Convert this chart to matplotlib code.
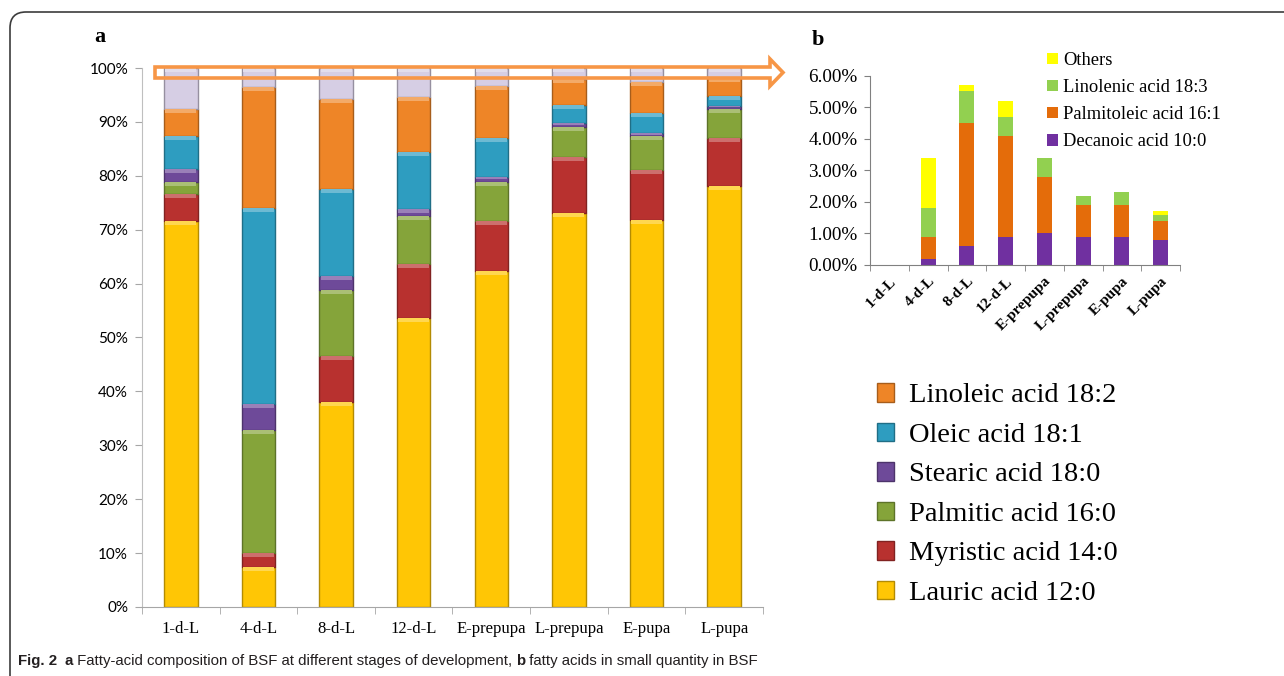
import numpy as np
import matplotlib
matplotlib.use("Agg")
import matplotlib.pyplot as plt
from matplotlib.patches import FancyArrow, FancyBboxPatch, Patch
from matplotlib.text import Annotation
from matplotlib.ticker import FixedLocator, FuncFormatter
from matplotlib.colors import to_rgb

stages = ["1-d-L", "4-d-L", "8-d-L", "12-d-L", "E-prepupa", "L-prepupa", "E-pupa", "L-pupa"]

# panel a: main fatty acids, % of total
lauric = [71.6, 7.4, 38.0, 53.6, 62.3, 73.1, 71.8, 78.1]
myristic = [5.0, 2.6, 8.6, 10.0, 9.3, 10.4, 9.3, 8.9]
palmitic = [2.3, 22.8, 12.2, 8.9, 7.3, 5.6, 6.3, 5.4]
stearic = [2.4, 4.9, 2.6, 1.3, 0.9, 0.7, 0.5, 0.6]
oleic = [6.1, 36.3, 16.2, 10.6, 7.2, 3.3, 3.8, 1.8]
linoleic = [5.0, 22.5, 16.6, 10.2, 9.7, 4.9, 5.7, 3.3]
minor = [7.6, 3.5, 5.8, 5.4, 3.3, 2.0, 2.6, 1.9]

a_labels = ["Lauric acid 12:0", "Myristic acid 14:0", "Palmitic acid 16:0",
            "Stearic acid 18:0", "Oleic acid 18:1", "Linoleic acid 18:2"]
a_colors = ["#FFC605", "#B8312F", "#85A43A", "#6E4A99", "#2E9DC0", "#EE8527", "#D6CEE4"]

# panel b: fatty acids in small quantity, %
decanoic = [0, 0.2, 0.6, 0.9, 1.0, 0.9, 0.9, 0.8]
palmitoleic = [0, 0.7, 3.9, 3.2, 1.8, 1.0, 1.0, 0.6]
linolenic = [0, 0.9, 1.0, 0.6, 0.6, 0.3, 0.4, 0.2]
others = [0, 1.6, 0.2, 0.5, 0, 0, 0, 0.1]

b_labels = ["Decanoic acid 10:0", "Palmitoleic acid 16:1", "Linolenic acid 18:3", "Others"]
b_colors = ["#7030A0", "#E46C0A", "#92D050", "#FFFF00"]

SERIF = ["Liberation Serif", "DejaVu Serif"]


def shade(c, f):
    r, g, b = to_rgb(c)
    if f < 0:
        return (r * (1 + f), g * (1 + f), b * (1 + f))
    return (r + (1 - r) * f, g + (1 - g) * f, b + (1 - b) * f)


fig = plt.figure(figsize=(12.84, 6.76), dpi=100)

# ---- panel a ----
ax = fig.add_axes([0.1106, 0.1021, 0.4836, 0.7973])
x = np.arange(len(stages))
series_a = [lauric, myristic, palmitic, stearic, oleic, linoleic, minor]
bottom = np.zeros(len(stages))
for vals, col in zip(series_a, a_colors):
    vals = np.array(vals)
    ax.bar(x, vals, 0.43, bottom=bottom, color=col, edgecolor=shade(col, -0.3),
           linewidth=1.0, zorder=2)
    # soft bevel highlight along the top of each segment
    hl = np.minimum(vals * 0.5, 0.7)
    ax.bar(x, hl, 0.40, bottom=bottom + vals - hl, color=shade(col, 0.3),
           linewidth=0, zorder=3)
    bottom += vals

ax.set_xlim(-0.5, len(stages) - 0.5)
ax.set_ylim(0, 100)
ax.yaxis.set_major_locator(FixedLocator(np.arange(0, 101, 10)))
ax.yaxis.set_major_formatter(FuncFormatter(lambda v, p: f"{v:.0f}%"))
ax.set_xticks(x)
ax.set_xticklabels(stages, fontfamily=SERIF, fontsize=12)
ax.xaxis.set_minor_locator(FixedLocator(np.arange(-0.5, len(stages), 1)))
ax.tick_params(axis="x", which="major", length=0, pad=10)
ax.tick_params(axis="x", which="minor", length=5, color="#A6A6A6")
ax.tick_params(axis="y", length=5, color="#A6A6A6", pad=5)
for lab in ax.get_yticklabels():
    lab.set_fontfamily(["Lato", "DejaVu Sans"])
    lab.set_fontsize(11)
for s in ["top", "right"]:
    ax.spines[s].set_visible(False)
ax.spines["left"].set_color("#BFBFBF")
ax.spines["bottom"].set_color("#A6A6A6")

handles = [Patch(facecolor=c, edgecolor=shade(c, -0.3)) for c in a_colors[:6]][::-1]
fig.legend(handles, a_labels[::-1], loc="upper left",
           bbox_to_anchor=(0.674, 0.450), frameon=False,
           prop={"family": SERIF, "size": 20.5}, handlelength=0.62, handleheight=0.62,
           handletextpad=0.5, labelspacing=0.5, borderaxespad=0)

# ---- panel b ----
bx = fig.add_axes([0.6776, 0.608, 0.2414, 0.280])
series_b = [decanoic, palmitoleic, linolenic, others]
bottom = np.zeros(len(stages))
for vals, col in zip(series_b, b_colors):
    bx.bar(x, vals, 0.39, bottom=bottom, color=col, linewidth=0, zorder=2)
    bottom += np.array(vals)
bx.set_xlim(-0.5, len(stages) - 0.5)
bx.set_ylim(0, 6)
bx.set_yticks(np.arange(0, 7, 1))
bx.yaxis.set_major_formatter(FuncFormatter(lambda v, p: f"{v:.2f}%"))
bx.set_xticks(x)
bx.set_xticklabels(stages, rotation=45, ha="right", rotation_mode="anchor",
                   fontfamily=SERIF, fontsize=11, fontweight="bold")
bx.xaxis.set_minor_locator(FixedLocator(np.arange(-0.5, len(stages), 1)))
bx.tick_params(axis="x", which="major", length=0, pad=7)
bx.tick_params(axis="x", which="minor", length=4, color="#808080")
bx.tick_params(axis="y", length=4, color="#808080", pad=5)
for lab in bx.get_yticklabels():
    lab.set_fontfamily(SERIF)
    lab.set_fontsize(13.8)
for s in ["top", "right"]:
    bx.spines[s].set_visible(False)
bx.spines["left"].set_color("#808080")
bx.spines["bottom"].set_color("#808080")

bh = [Patch(facecolor=c, edgecolor="none") for c in b_colors][::-1]
fig.legend(bh, b_labels[::-1], loc="upper left", bbox_to_anchor=(0.810, 0.934),
           frameon=False, prop={"family": SERIF, "size": 13.3},
           handlelength=0.55, handleheight=0.55, handletextpad=0.3,
           labelspacing=0.55, borderaxespad=0)

# panel letters
fig.text(100 / 1284, 1 - 37 / 676, "a", fontfamily=SERIF, fontweight="bold",
         fontsize=16, ha="center", va="center")
fig.text(818 / 1284, 1 - 40 / 676, "b", fontfamily=SERIF, fontweight="bold",
         fontsize=16, ha="center", va="center")

# hollow arrow along the top of panel a
inch = fig.dpi_scale_trans
arrow = FancyArrow(1.55, 6.035, 6.28, 0, width=0.11, head_width=0.27, head_length=0.13,
                   length_includes_head=True, transform=inch, facecolor="none",
                   edgecolor="#F79646", linewidth=2.6, zorder=10)
fig.add_artist(arrow)

# rounded frame
frame = FancyBboxPatch((0.10, -0.5), 14.0, 6.64 + 0.5,
                       boxstyle="round,pad=0,rounding_size=0.16", transform=inch,
                       facecolor="none", edgecolor="#3C3C3C", linewidth=1.2)
fig.add_artist(frame)

# caption, pieces chained one after another
cap_font = ["Liberation Sans", "DejaVu Sans"]
cap_size = 10.8
parts = [("Fig. 2", "bold"), ("\u2002", "normal"), ("a", "bold"),
         (" Fatty-acid composition of BSF at different stages of development, ", "normal"),
         ("b", "bold"), (" fatty acids in small quantity in BSF", "normal")]
anchor = fig.text(0.18 / 12.84, 1 - 665 / 676, parts[0][0], fontfamily=cap_font,
                  fontweight=parts[0][1], fontsize=cap_size, va="baseline",
                  color="#231F20")
for txt, w in parts[1:]:
    anchor = fig.add_artist(Annotation(
        txt, xy=(1, 0), xycoords=anchor, va="bottom", ha="left",
        fontfamily=cap_font, fontweight=w, fontsize=cap_size, color="#231F20"))

fig.savefig("out.png", dpi=100)
